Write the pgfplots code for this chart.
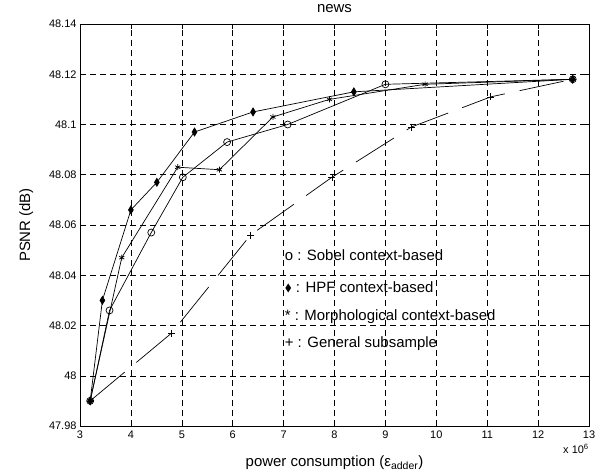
\documentclass[border=0pt]{standalone}
\usepackage{fontspec}
\setmainfont{Liberation Sans}
\usepackage{amssymb}
\usepackage{pgfplots}
\pgfplotsset{compat=1.18}
\newcommand{\labfont}{\fontsize{15}{18}\selectfont}
\begin{document}
\begin{tikzpicture}
\useasboundingbox (-80bp,-50bp) rectangle (528bp,426bp);
\begin{axis}[
    at={(0,0)}, anchor=south west,
    scale only axis, width=509bp, height=402bp,
    clip=false,
    xmin=3, xmax=13, ymin=47.98, ymax=48.14,
    xtick={3,4,5,6,7,8,9,10,11,12,13},
    ytick={47.98,48,48.02,48.04,48.06,48.08,48.1,48.12,48.14},
    yticklabels={47.98,48,48.02,48.04,48.06,48.08,48.1,48.12,48.14},
    /pgf/number format/assume math mode=true,
    tick label style={font=\fontsize{11}{13}\selectfont},
    xticklabel style={yshift=-1bp},
    grid=major,
    grid style={black, line width=0.5bp, dash pattern=on 6bp off 4bp},
    axis line style={line width=0.8bp},
    tick align=inside, major tick length=5bp,
    tick style={black, line width=0.5bp},
    every axis title shift=0pt,
    title={news},
    title style={at={(0.5,1.0274)}, anchor=base, font=\labfont},
    xlabel={power consumption (ε\textsubscript{adder})},
    xlabel style={at={(0.5,-0.1007)}, anchor=base, font=\labfont},
    ylabel={PSNR (dB)},
    ylabel style={at={(-0.098,0.5)}, anchor=base, font=\labfont},
    every axis plot/.append style={black, line width=0.7bp},
]
% Sobel context-based
\addplot[mark=o, mark size=3.5bp] coordinates {
    (3.2,47.990)(3.58,48.026)(4.40,48.057)(5.02,48.079)(5.89,48.093)
    (7.08,48.100)(9.0,48.116)(12.68,48.118)
};
% HPF context-based
\addplot[mark=diamond*, mark size=4bp, mark options={xscale=0.8}] coordinates {
    (3.2,47.990)(3.44,48.030)(4.0,48.066)(4.51,48.077)(5.25,48.097)
    (6.40,48.105)(8.38,48.113)(12.68,48.118)
};
% Morphological context-based
\addplot[mark=asterisk, mark size=3bp] coordinates {
    (3.2,47.990)(3.82,48.047)(4.92,48.083)(5.74,48.082)(6.79,48.103)
    (7.90,48.110)(9.78,48.116)(12.68,48.118)
};
% General subsample
\addplot[mark=+, mark size=3.5bp, dash pattern=on 45bp off 15bp, mark options={solid}] coordinates {
    (3.2,47.990)(4.80,48.017)(6.35,48.056)(7.95,48.079)(9.51,48.099)
    (11.07,48.111)(12.68,48.118)
};
\node[anchor=west, inner sep=0pt, font=\labfont] at (axis cs:7.02,48.048) {o : Sobel context-based};
\node[anchor=west, inner sep=0pt, font=\labfont] at (axis cs:7.02,48.0353) {\raisebox{0.5bp}{$\scriptstyle\blacklozenge$} : HPF context-based};
\node[anchor=west, inner sep=0pt, font=\labfont] at (axis cs:7.02,48.0237) {* : Morphological context-based};
\node[anchor=west, inner sep=0pt, font=\labfont] at (axis cs:7.02,48.0128) {+ : General subsample};
\node[anchor=base west, inner sep=0pt, font=\fontsize{11}{13}\selectfont] at (rel axis cs:0.949,-0.0684) {x 10\textsuperscript{6}};
\end{axis}
\end{tikzpicture}
\end{document}
